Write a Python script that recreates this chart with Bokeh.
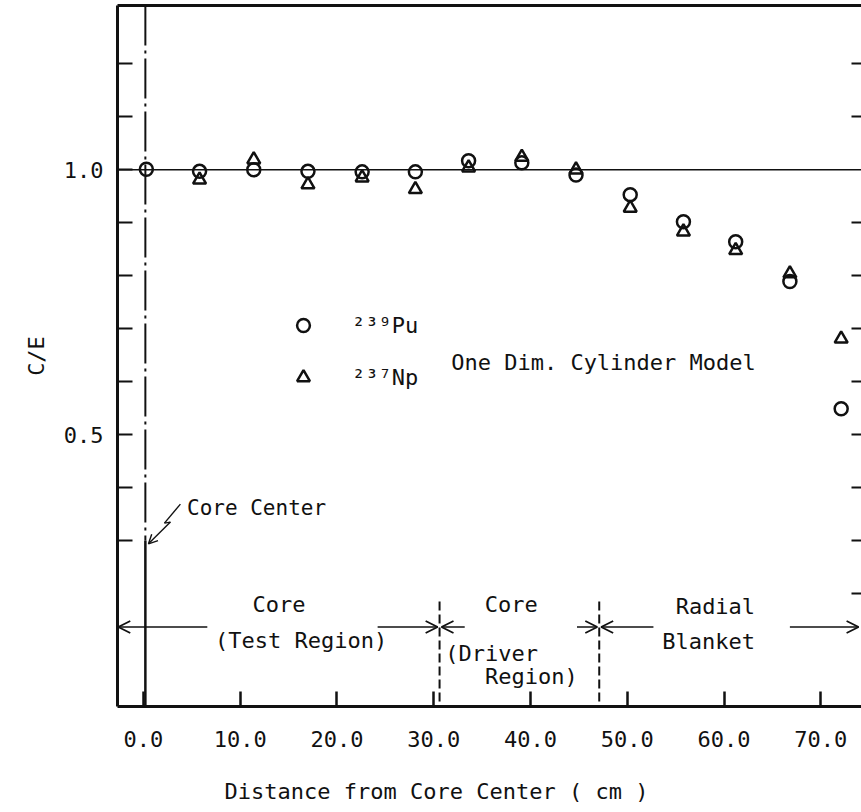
from bokeh.plotting import figure
from bokeh.models import (Range1d, LinearAxis, FixedTicker, Span, Arrow, OpenHead,
                          Label, ColumnDataSource, Legend, LegendItem)
from bokeh.embed import file_html
from bokeh.resources import INLINE

# ---- data ----
distance_pu = [0.3, 5.8, 11.4, 17.0, 22.6, 28.1, 33.6, 39.1, 44.7, 50.3, 55.8, 61.2, 66.8, 72.1]
ce_pu239 = [1.001, 0.997, 1.000, 0.997, 0.996, 0.996, 1.017, 1.013, 0.990, 0.953, 0.902, 0.864, 0.789, 0.549]
distance_np = [5.8, 11.4, 17.0, 22.6, 28.1, 33.6, 39.1, 44.7, 50.3, 55.8, 61.2, 66.8, 72.1]
ce_np237 = [0.981, 1.019, 0.972, 0.985, 0.963, 1.004, 1.024, 1.000, 0.928, 0.883, 0.848, 0.804, 0.681]

x_ticks = [0, 10, 20, 30, 40, 50, 60, 70]
x_tick_labels = ["0.0", "10.0", "20.0", "30.0", "40.0", "50.0", "60.0", "70.0"]
y_major = [0.5, 1.0]
y_major_labels = ["0.5", "1.0"]
y_minor_left = [0.3, 0.4, 0.6, 0.7, 0.8, 0.9, 1.1, 1.2]
y_minor_right = [0.2, 0.3, 0.4, 0.5, 0.6, 0.7, 0.8, 0.9, 1.1, 1.2]

core_center_x = 0.2
test_driver_boundary = 30.6
driver_blanket_boundary = 47.1

FONT = "DejaVu Sans Mono"
INK = "#111111"

p = figure(width=861, height=812, output_backend="svg", toolbar_location=None,
           x_range=Range1d(-2.68, 74.2), y_range=Range1d(-0.013, 1.31),
           x_axis_location=None, y_axis_location=None,
           min_border_left=117, min_border_bottom=106, min_border_top=5, min_border_right=0)
p.outline_line_color = None
p.xgrid.visible = False
p.ygrid.visible = False
p.background_fill_color = "white"
p.border_fill_color = "white"

# left axis
yax = LinearAxis(ticker=FixedTicker(ticks=y_major, minor_ticks=y_minor_left),
                 major_label_overrides={v: s for v, s in zip(y_major, y_major_labels)},
                 axis_label="C/E")
yax.axis_line_width = 3
yax.axis_line_color = INK
yax.major_tick_in = 15
yax.major_tick_out = 0
yax.minor_tick_in = 15
yax.minor_tick_out = 0
yax.major_tick_line_width = 2
yax.minor_tick_line_width = 2
yax.major_tick_line_color = INK
yax.minor_tick_line_color = INK
yax.major_label_text_font = FONT
yax.major_label_text_font_size = "22px"
yax.major_label_text_color = INK
yax.major_label_standoff = 14
yax.axis_label_text_font = FONT
yax.axis_label_text_font_size = "22px"
yax.axis_label_text_font_style = "normal"
yax.axis_label_text_color = INK
yax.axis_label_standoff = 12
p.add_layout(yax, "left")

# bottom axis; trailing no-break spaces shift the centred title left, as in the original
xax = LinearAxis(ticker=FixedTicker(ticks=x_ticks, minor_ticks=[]),
                 major_label_overrides={v: s for v, s in zip(x_ticks, x_tick_labels)},
                 axis_label="Distance from Core Center ( cm )" + "\u00a0" * 8)
xax.axis_line_width = 3
xax.axis_line_color = INK
xax.major_tick_in = 15
xax.major_tick_out = 0
xax.major_tick_line_width = 2.5
xax.major_tick_line_color = INK
xax.minor_tick_in = 0
xax.minor_tick_out = 0
xax.major_label_text_font = FONT
xax.major_label_text_font_size = "22px"
xax.major_label_text_color = INK
xax.major_label_standoff = 24
xax.axis_label_text_font = FONT
xax.axis_label_text_font_size = "22px"
xax.axis_label_text_font_style = "normal"
xax.axis_label_text_color = INK
xax.axis_label_standoff = 29
p.add_layout(xax, "below")

# top frame line
tax = LinearAxis(ticker=FixedTicker(ticks=[], minor_ticks=[]))
tax.axis_line_width = 3
tax.axis_line_color = INK
tax.major_tick_out = 0
tax.major_tick_in = 0
tax.minor_tick_out = 0
tax.minor_tick_in = 0
tax.major_label_text_font_size = "0px"
tax.major_label_standoff = 0
p.add_layout(tax, "above")

# right ticks (frame edge lies outside the picture)
rax = LinearAxis(ticker=FixedTicker(ticks=y_minor_right, minor_ticks=[]))
rax.axis_line_color = None
rax.major_tick_in = 10
rax.major_tick_out = 0
rax.major_tick_line_width = 2
rax.major_tick_line_color = INK
rax.minor_tick_in = 0
rax.minor_tick_out = 0
rax.major_label_text_font_size = "0px"
rax.major_label_standoff = 0
p.add_layout(rax, "right")

# C/E = 1 reference line
p.add_layout(Span(location=1.0, dimension="width", line_color=INK, line_width=1.6))

# core center line: dash-dot upper part, solid lower part
p.add_layout(Arrow(x_start=core_center_x, y_start=1.31, x_end=core_center_x, y_end=0.30, end=None,
                   line_color=INK, line_width=2, line_dash="40 5 3 5"))
p.add_layout(Arrow(x_start=core_center_x, y_start=0.30, x_end=core_center_x, y_end=-0.013, end=None,
                   line_color=INK, line_width=2.5))

# region boundaries (dashed)
for bx in (test_driver_boundary, driver_blanket_boundary):
    p.add_layout(Arrow(x_start=bx, y_start=0.185, x_end=bx, y_end=-0.013, end=None,
                       line_color=INK, line_width=2, line_dash="9 4"))

# region arrows
arrow_y = 0.137
def harrow(x0, x1):
    p.add_layout(Arrow(x_start=x0, y_start=arrow_y, x_end=x1, y_end=arrow_y,
                       line_color=INK, line_width=1.6,
                       end=OpenHead(size=12, line_width=1.8, line_color=INK)))
harrow(6.6, -2.6)
harrow(24.2, 30.4)
harrow(33.2, 30.8)
harrow(44.8, 46.9)
harrow(52.7, 47.3)
harrow(66.8, 73.9)

def lab(x, y, text, align="center", size="22px"):
    p.add_layout(Label(x=x, y=y, text=text, text_font=FONT, text_font_size=size,
                       text_color=INK, text_align=align, text_baseline="middle"))

lab(14.0, 0.180, "Core")
lab(16.3, 0.112, "(Test Region)")
lab(38.0, 0.180, "Core")
lab(31.2, 0.087, "(Driver", align="left")
lab(35.3, 0.044, "Region)", align="left")
lab(59.1, 0.176, "Radial")
lab(58.4, 0.110, "Blanket")
lab(31.8, 0.636, "One Dim. Cylinder Model", align="left")
lab(4.5, 0.362, "Core Center", align="left", size="21px")

# zigzag pointer to the core centre line
zz = [(3.82, 0.369), (2.17, 0.333), (2.79, 0.335)]
for (xa, ya), (xb, yb) in zip(zz[:-1], zz[1:]):
    p.add_layout(Arrow(x_start=xa, y_start=ya, x_end=xb, y_end=yb, end=None,
                       line_color=INK, line_width=1.4))
p.add_layout(Arrow(x_start=2.79, y_start=0.335, x_end=0.52, y_end=0.294,
                   line_color=INK, line_width=1.4,
                   end=OpenHead(size=9, line_width=1.4, line_color=INK)))

# data
src_pu = ColumnDataSource(dict(x=distance_pu, y=ce_pu239))
src_np = ColumnDataSource(dict(x=distance_np, y=ce_np237))
p.scatter("x", "y", source=src_np, marker="triangle", size=13, fill_color="white", line_color=None)
p.scatter("x", "y", source=src_pu, marker="circle", size=13, fill_color="white", line_color=None)
r_np = p.scatter("x", "y", source=src_np, marker="triangle", size=13, fill_color=None,
                 line_color=INK, line_width=2.5)
r_pu = p.scatter("x", "y", source=src_pu, marker="circle", size=13, fill_color=None,
                 line_color=INK, line_width=2.5)

legend = Legend(items=[LegendItem(label="²³⁹Pu", renderers=[r_pu]),
                       LegendItem(label="²³⁷Np", renderers=[r_np])],
                location=(170, 313), orientation="vertical",
                glyph_width=32, glyph_height=32, label_height=32, spacing=20,
                label_standoff=33, padding=0, margin=0,
                border_line_color=None, background_fill_alpha=0,
                label_text_font=FONT, label_text_font_size="22px", label_text_color=INK)
p.add_layout(legend)

open("out.html", "w").write(file_html(p, INLINE))
